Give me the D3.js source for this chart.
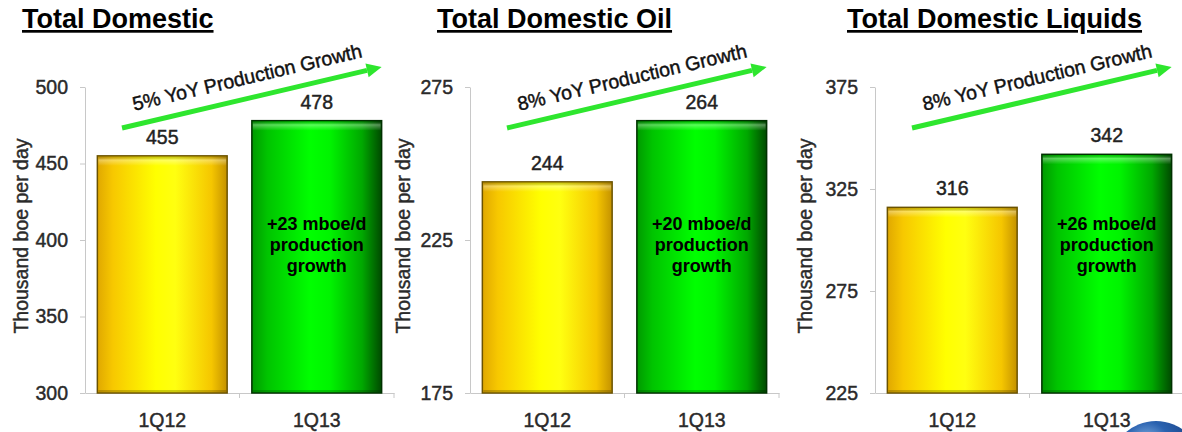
<!DOCTYPE html>
<html>
<head>
<meta charset="utf-8">
<script src="https://cdn.jsdelivr.net/npm/d3@7"></script>
<style>
  html, body { margin: 0; padding: 0; background: #fff; }
  svg { display: block; font-family: "Liberation Sans", Arial, sans-serif; }
  .soft { stroke: currentColor; stroke-width: 0.45px; paint-order: stroke; }
</style>
</head>
<body>
<svg id="chart" width="1182" height="432"></svg>
<script>
// Production panels: domestic total, oil, liquids (thousand boe per day)
const panelTitles = ["Total Domestic", "Total Domestic Oil", "Total Domestic Liquids"];
const categories = ["1Q12", "1Q13"];
const values1Q12 = [455, 244, 316];
const values1Q13 = [478, 264, 342];
const yDomains = [[300, 500], [175, 275], [225, 375]];
const yTicks = [[300, 350, 400, 450, 500], [175, 225, 275], [225, 275, 325, 375]];
const growthPct = ["5%", "8%", "8%"];
const growthNotes = [
  ["+23 mboe/d", "production", "growth"],
  ["+20 mboe/d", "production", "growth"],
  ["+26 mboe/d", "production", "growth"]
];
const yAxisLabel = "Thousand boe per day";

const svg = d3.select("#chart");
const defs = svg.append("defs");

// Horizontal shading for the cylinder-like bars
function hGrad(id, stops) {
  const g = defs.append("linearGradient").attr("id", id)
    .attr("x1", "0%").attr("x2", "100%").attr("y1", "0%").attr("y2", "0%");
  stops.forEach(([o, c]) => g.append("stop").attr("offset", o).attr("stop-color", c));
}
hGrad("gold", [["0%", "#e0a800"], ["12%", "#f7c800"], ["45%", "#ffff00"], ["60%", "#ffff10"], ["88%", "#f5c600"], ["100%", "#c49200"]]);
hGrad("green", [["0%", "#009a00"], ["12%", "#00c400"], ["45%", "#00ff00"], ["60%", "#00f400"], ["85%", "#00a800"], ["100%", "#004a00"]]);

const topShine = defs.append("linearGradient").attr("id", "topShine")
  .attr("x1", "0").attr("x2", "0").attr("y1", "0").attr("y2", "1");
topShine.append("stop").attr("offset", "0%").attr("stop-color", "#000").attr("stop-opacity", 0.2);
topShine.append("stop").attr("offset", "35%").attr("stop-color", "#fff").attr("stop-opacity", 0.35);
topShine.append("stop").attr("offset", "100%").attr("stop-color", "#fff").attr("stop-opacity", 0);

const globe = defs.append("radialGradient").attr("id", "globe")
  .attr("cx", "40%").attr("cy", "25%").attr("r", "70%");
globe.append("stop").attr("offset", "0%").attr("stop-color", "#8fbbe8");
globe.append("stop").attr("offset", "35%").attr("stop-color", "#2a62b0");
globe.append("stop").attr("offset", "100%").attr("stop-color", "#0f2f6a");

const panelX = [85, 470, 875];
const plotW = 309;
const plotTop = 87, plotBottom = 393;
const titleX = [22, 437, 847];
const labelX = [28, 410, 812];
const fillIds = ["gold", "green"];
const outline = ["#6a5200", "#003000"];

panelTitles.forEach((title, i) => {
  const x0 = panelX[i];
  const g = svg.append("g");
  const vals = [values1Q12[i], values1Q13[i]];

  const x = d3.scaleBand().domain(categories).range([x0, x0 + plotW])
    .paddingInner(0.16).paddingOuter(0.08);
  const y = d3.scaleLinear().domain(yDomains[i]).range([plotBottom, plotTop]);

  // Title
  g.append("text").attr("x", titleX[i]).attr("y", 28)
    .attr("font-size", 27).attr("font-weight", "bold")
    .attr("text-decoration", "underline").attr("fill", "#000")
    .text(title);

  // Y axis
  const yAxis = g.append("g").attr("transform", `translate(${x0},0)`)
    .call(d3.axisLeft(y).tickValues(yTicks[i]).tickSize(5).tickPadding(12).tickSizeOuter(0));
  yAxis.select(".domain").attr("stroke", "#c8c8c8");
  yAxis.selectAll(".tick line").attr("stroke", "#c8c8c8");
  yAxis.selectAll(".tick text").attr("font-size", 19.5).attr("fill", "#2a2a2a")
    .attr("color", "#2a2a2a").attr("class", "soft")
    .attr("font-family", "Liberation Sans, Arial, sans-serif");

  // X axis
  const xAxis = g.append("g").attr("transform", `translate(0,${plotBottom})`)
    .call(d3.axisBottom(x).tickSize(0).tickPadding(20).tickSizeOuter(0));
  xAxis.select(".domain").attr("stroke", "#c8c8c8");
  xAxis.selectAll(".tick text").attr("font-size", 19.5).attr("fill", "#2a2a2a")
    .attr("color", "#2a2a2a").attr("class", "soft")
    .attr("font-family", "Liberation Sans, Arial, sans-serif");
  const sep = [x0 + x.step() * (x.paddingOuter() + 1) - x.step() * x.paddingInner() / 2, x0 + plotW];
  g.selectAll("line.sep").data(sep).join("line").attr("class", "sep")
    .attr("x1", d => d).attr("x2", d => d)
    .attr("y1", plotBottom).attr("y2", plotBottom + 5)
    .attr("stroke", "#c8c8c8");

  // Y axis title
  const lx = labelX[i], ly = (plotTop + plotBottom) / 2 - 4;
  g.append("text").attr("transform", `translate(${lx},${ly}) rotate(-90)`)
    .attr("text-anchor", "middle").attr("font-size", 19.5).attr("fill", "#2a2a2a")
    .attr("color", "#2a2a2a").attr("class", "soft")
    .text(yAxisLabel);

  // Bars
  categories.forEach((c, j) => {
    const bx = x(c), bw = x.bandwidth(), by = y(vals[j]), bh = y(yDomains[i][0]) - y(vals[j]);
    g.append("rect").attr("x", bx).attr("y", by).attr("width", bw).attr("height", bh)
      .attr("fill", `url(#${fillIds[j]})`).attr("stroke", outline[j]).attr("stroke-width", 1.5);
    g.append("rect").attr("x", bx + 1).attr("y", by + 1).attr("width", bw - 2).attr("height", 9)
      .attr("fill", "url(#topShine)");
    g.append("rect").attr("x", bx + 1).attr("y", by + bh - 3).attr("width", bw - 2).attr("height", 2)
      .attr("fill", "#000").attr("opacity", 0.2);
    // Value label
    g.append("text").attr("x", bx + bw / 2).attr("y", by - 12)
      .attr("text-anchor", "middle").attr("font-size", 19.5).attr("fill", "#222")
      .attr("color", "#222").attr("class", "soft")
      .text(vals[j]);
  });

  // Growth note inside the 1Q13 bar
  const cx = x(categories[1]) + x.bandwidth() / 2;
  g.append("text").attr("text-anchor", "middle").attr("font-size", 18)
    .attr("font-weight", "bold").attr("fill", "#000")
    .selectAll("tspan").data(growthNotes[i]).join("tspan")
    .attr("x", cx).attr("y", (d, k) => 230 + k * 21).text(d => d);

  // Growth arrow with label
  const ax1 = x(categories[0]) + x.bandwidth() * 0.19, ay1 = 128;
  const ax2 = x(categories[1]) + x.bandwidth(), ay2 = 67;
  const ang = Math.atan2(ay2 - ay1, ax2 - ax1);
  const headLen = 15, headW = 7;
  const bx2 = ax2 - headLen * Math.cos(ang), by2 = ay2 - headLen * Math.sin(ang);
  g.append("line").attr("x1", ax1).attr("y1", ay1).attr("x2", bx2).attr("y2", by2)
    .attr("stroke", "#2ee62e").attr("stroke-width", 5);
  const px = -Math.sin(ang), py = Math.cos(ang);
  g.append("path")
    .attr("d", `M${ax2},${ay2} L${bx2 + px * headW},${by2 + py * headW} L${bx2 - px * headW},${by2 - py * headW} Z`)
    .attr("fill", "#2ee62e");
  const mx = (ax1 + ax2) / 2, my = (ay1 + ay2) / 2;
  g.append("text")
    .attr("transform", `translate(${mx},${my}) rotate(${ang * 180 / Math.PI})`)
    .attr("x", 0).attr("y", -14)
    .attr("text-anchor", "middle").attr("font-size", 19.5).attr("fill", "#111")
    .attr("color", "#111").attr("class", "soft")
    .text(`${growthPct[i]} YoY Production Growth`);
});

// Corner globe emblem
svg.append("circle").attr("cx", 1156).attr("cy", 467).attr("r", 46)
  .attr("fill", "url(#globe)");
</script>
</body>
</html>
